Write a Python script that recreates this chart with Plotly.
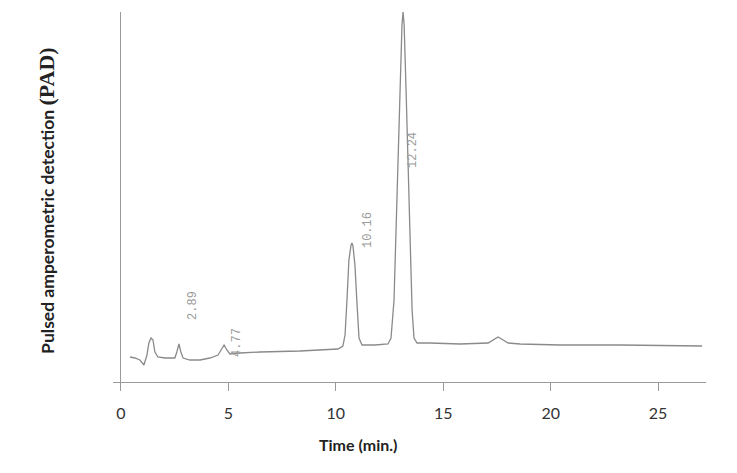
import plotly.graph_objects as go

# Chromatogram trace (time in minutes, detector response in arbitrary units)
time_min = [0.42, 0.65, 0.88, 1.07, 1.21, 1.30, 1.40, 1.49, 1.58, 1.72, 2.05, 2.51, 2.60, 2.70,
            2.79, 2.89, 3.21, 3.68, 4.14, 4.52, 4.66, 4.80, 4.93, 5.07, 5.54, 6.47, 8.33, 10.10,
            10.33, 10.43, 10.52, 10.61, 10.71, 10.75, 10.80, 10.89, 10.99, 11.08, 11.22, 11.82,
            12.43, 12.57, 12.71, 12.85, 12.99, 13.08, 13.13, 13.18, 13.27, 13.41, 13.55, 13.64,
            13.78, 14.39, 15.78, 17.09, 17.32, 17.55, 17.79, 18.02, 18.58, 20.44, 23.23, 25.56, 27.05]
response = [25, 24, 22, 17, 27, 39, 44, 42, 30, 25, 24, 24, 30, 38,
            30, 24, 22, 22, 24, 27, 32, 37, 32, 28, 29, 30, 31, 33,
            36, 47, 82, 122, 137, 139, 136, 117, 77, 44, 37, 37,
            38, 44, 82, 182, 302, 357, 370, 357, 292, 172, 72, 44,
            39, 39, 38, 39, 42, 45, 42, 39, 38, 37, 37, 36, 36]

# Peak retention-time labels and where they sit
peak_labels = ["2.89", "4.77", "10.16", "12.24"]
label_x = [3.35, 5.40, 11.50, 13.59]
label_y = [77, 40, 152, 232]

x_ticks = [0, 5, 10, 15, 20, 25]

fig = go.Figure()
fig.add_trace(go.Scatter(x=time_min, y=response, mode="lines",
                         line=dict(color="#8a8a8a", width=1.3), showlegend=False,
                         hoverinfo="skip"))

for txt, xx, yy in zip(peak_labels, label_x, label_y):
    fig.add_annotation(x=xx, y=yy, xref="x", yref="y", text=txt, showarrow=False,
                       textangle=-90, font=dict(family="Liberation Mono", size=12, color="#9a9a9a"))

# plot area: 593 px wide, 370 px tall
fig.add_annotation(xref="paper", yref="paper", x=0.413, y=-0.168, text="<b>Time (min.)</b>",
                   showarrow=False, xanchor="center", yanchor="middle",
                   font=dict(family="Lato", size=16, color="#222"))
fig.add_annotation(xref="paper", yref="paper", x=-0.111, y=0.49,
                   text="<b>Pulsed amperometric detection <span style='font-family:Liberation Serif;font-size:22px'>(PAD)</span></b>",
                   showarrow=False, textangle=-90, xanchor="center", yanchor="middle",
                   font=dict(family="Lato", size=17.5, color="#222"))

fig.update_layout(
    width=729, height=465,
    margin=dict(l=105, r=31, t=4, b=91),
    paper_bgcolor="white", plot_bgcolor="white",
    xaxis=dict(range=[-0.37, 27.23], tickvals=x_ticks, showgrid=False,
               showline=True, linecolor="#9a9a9a", linewidth=1.2,
               ticks="outside", ticklen=8, tickcolor="#9a9a9a", tickwidth=1.2,
               ticklabelstandoff=9,
               zeroline=True, zerolinecolor="#9a9a9a", zerolinewidth=1.2,
               tickfont=dict(family="Lato", size=16, color="#333")),
    yaxis=dict(range=[0, 370], showgrid=False, showline=False, showticklabels=False,
               ticks="", zeroline=False),
)

fig.write_html("out.html")
